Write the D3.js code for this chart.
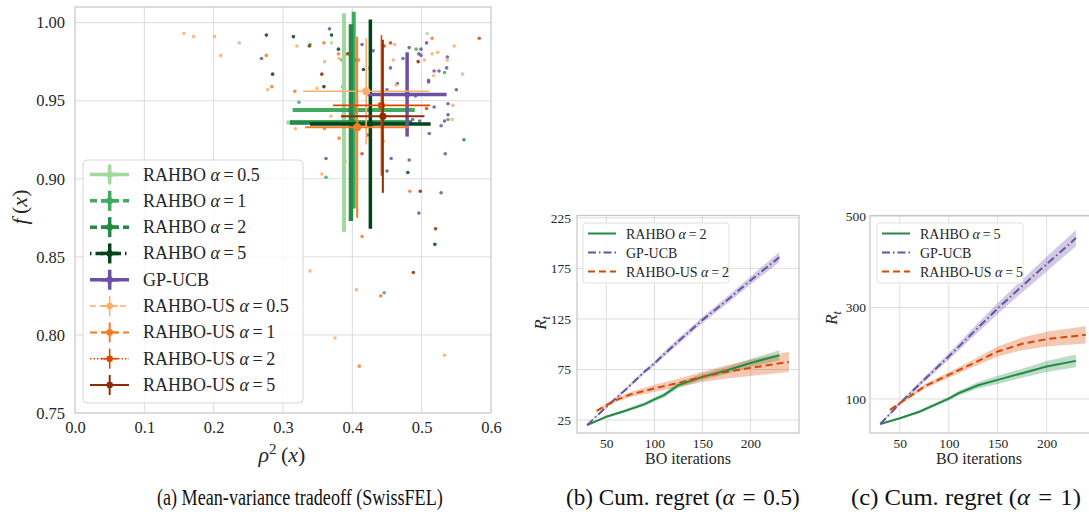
<!DOCTYPE html>
<html>
<head>
<meta charset="utf-8">
<script src="https://cdn.jsdelivr.net/npm/d3@7"></script>
<style>
  body { margin: 0; background: #fff; }
  svg { display: block; font-family: "Liberation Serif", "Times New Roman", serif; }
</style>
</head>
<body>
<svg id="chart" width="1089" height="518"></svg>
<script>
// ---- panel (a): mean-variance tradeoff ----
var methodNames = ["RAHBO", "RAHBO", "RAHBO", "RAHBO", "GP-UCB", "RAHBO-US", "RAHBO-US", "RAHBO-US", "RAHBO-US"];
var methodAlphas = ["0.5", "1", "2", "5", null, "0.5", "1", "2", "5"];
var meanRho2 = [0.388, 0.402, 0.398, 0.426, 0.479, 0.420, 0.407, 0.442, 0.444];
var meanF    = [0.936, 0.944, 0.936, 0.935, 0.954, 0.956, 0.933, 0.947, 0.940];
var errRho2  = [0.083, 0.088, 0.088, 0.087, 0.057, 0.091, 0.075, 0.070, 0.060];
var errF     = [0.070, 0.063, 0.063, 0.067, 0.027, 0.034, 0.058, 0.045, 0.049];

var runsRahbo05 = [[0.237,0.987],[0.370,0.987],[0.508,0.993],[0.559,0.967]];
var runsRahbo1  = [[0.339,0.986],[0.323,0.949],[0.492,0.983],[0.533,0.968],[0.538,0.938],[0.362,0.901],[0.446,0.827]];
var runsRahbo2  = [[0.561,0.925]];
var runsRahbo5  = [[0.276,0.992],[0.285,0.967],[0.315,0.991],[0.370,0.992],[0.380,0.983],[0.359,0.959],[0.416,0.970],[0.480,0.904],[0.519,0.858]];
var runsUcb     = [[0.269,0.977],[0.367,0.996],[0.362,0.913],[0.414,0.986],[0.406,0.976],[0.430,0.982],[0.401,0.968],[0.455,0.971],
                   [0.473,0.977],[0.465,0.961],[0.450,0.957],[0.482,0.984],[0.499,0.983],[0.496,0.980],[0.499,0.979],[0.507,0.987],
                   [0.537,0.978],[0.536,0.971],[0.518,0.969],[0.525,0.969],[0.510,0.963],[0.510,0.962],[0.550,0.957],[0.491,0.953],
                   [0.518,0.946],[0.538,0.948],[0.538,0.941],[0.533,0.937],[0.528,0.934],[0.511,0.929],[0.497,0.937],[0.487,0.938],
                   [0.534,0.916],[0.482,0.912],[0.456,0.913],[0.450,0.905],[0.528,0.891],[0.496,0.878]];
var runsUs05    = [[0.157,0.993],[0.171,0.991],[0.201,0.991],[0.210,0.979],[0.278,0.957],[0.320,0.985],[0.381,0.977],[0.360,0.975],
                   [0.349,0.958],[0.369,0.940],[0.318,0.932],[0.461,0.986],[0.459,0.976],[0.463,0.960],[0.504,0.976],[0.523,0.981],
                   [0.515,0.980],[0.537,0.976],[0.517,0.966],[0.547,0.985],[0.545,0.947],[0.544,0.938],[0.445,0.924],[0.356,0.903],
                   [0.390,0.911],[0.339,0.841],[0.406,0.829],[0.375,0.798],[0.533,0.787]];
var runsUs1     = [[0.276,0.979],[0.284,0.959],[0.359,0.987],[0.380,0.980],[0.385,0.976],[0.386,0.959],[0.317,0.956],[0.386,0.940],
                   [0.360,0.932],[0.381,0.926],[0.409,0.976],[0.425,0.971],[0.515,0.990],[0.483,0.892],[0.441,0.825],[0.410,0.780],[0.414,0.863]];
var runsUs2     = [[0.392,0.980],[0.414,0.916],[0.446,0.985],[0.455,0.987],[0.583,0.990],[0.507,0.945],[0.422,0.928]];
var runsUs5     = [[0.338,0.985],[0.395,0.980],[0.356,0.967],[0.495,0.975],[0.498,0.892],[0.520,0.868],[0.488,0.840]];
var runsByMethod = [runsRahbo05, runsRahbo1, runsRahbo2, runsRahbo5, runsUcb, runsUs05, runsUs1, runsUs2, runsUs5];

var xTicksA = [0.0, 0.1, 0.2, 0.3, 0.4, 0.5, 0.6];
var yTicksA = [0.75, 0.80, 0.85, 0.90, 0.95, 1.00];

// ---- panel (b): cumulative regret, alpha = 0.5 ----
var itersB      = [30, 50, 70, 90, 100, 110, 125, 150, 175, 200, 230];
var rahboB      = [20, 28.3, 34.2, 40.8, 45.4, 49.6, 59.5, 67.7, 74, 81.5, 89];
var rahboBsd    = [0.5, 1, 1.5, 2, 2, 2.5, 3, 3, 3.5, 4, 5];
var ucbB        = [20, 38, 55, 73, 81, 90, 103, 124, 143, 163, 186];
var ucbBsd      = [0.5, 1, 1.5, 2, 2, 2.5, 3, 3, 3.5, 4, 5];
var itersUsB    = [40, 50, 60, 75, 100, 125, 150, 175, 200, 240];
var usB         = [34, 39.8, 44.7, 50.3, 56.3, 61.8, 67.7, 72.6, 76.6, 82.5];
var usBsd       = [1, 1.5, 2, 2.5, 3.5, 4, 5, 6.5, 8, 10];
var xTicksB = [50, 100, 150, 200];
var yTicksB = [25, 75, 125, 175, 225];

// ---- panel (c): cumulative regret, alpha = 1 ----
var itersC      = [30, 50, 70, 100, 110, 130, 150, 175, 200, 230];
var rahboC      = [45, 57.6, 72, 100.7, 112.4, 130, 141.7, 156.3, 170.9, 183.3];
var rahboCsd    = [1, 2, 3, 4, 5, 7, 9, 10, 12, 14];
var ucbC        = [45, 90, 132, 193, 214, 256, 298, 347, 395, 452];
var ucbCsd      = [1, 3, 5, 7, 8, 10, 12, 14, 16, 18];
var itersUsC    = [40, 50, 75, 100, 125, 150, 175, 200, 240];
var usC         = [76, 90.6, 127, 152.6, 178, 203.7, 220.6, 230.9, 240.3];
var usCsd       = [2, 3, 5, 6, 8, 11, 14, 16, 19];
var xTicksC = [50, 100, 150, 200];
var yTicksC = [100, 300, 500];

// ---- styles ----
var methodColors = ["#a1d99b", "#41ab5d", "#238b45", "#00441b", "#6a51a3", "#fdae6b", "#f47b2a", "#d94801", "#8c2d04"];
var methodWidths = [4, 4, 4.5, 3.5, 3.5, 1.6, 2, 1.6, 2];
var methodDash   = [null, "7,4", "7,4", "1.5,4,8,4", null, "6,4", "7,4", "1.5,2", null];
var markerR      = [3.5, 3.5, 3.2, 3.2, 3, 4, 4, 3.6, 3.6];
var textColor = "#262626", gridColor = "#dcdcdc", frameColor = "#c8c8c8";
var serif = "'Liberation Serif', 'Times New Roman', serif";

var svg = d3.select("#chart");

function frameAndGrid(g, x, y, xt, yt) {
  var r = [x.range()[0], x.range()[1]], t = [y.range()[1], y.range()[0]];
  g.append("g").selectAll("line").data(xt).enter().append("line")
    .attr("x1", function(d){ return x(d); }).attr("x2", function(d){ return x(d); })
    .attr("y1", t[0]).attr("y2", t[1])
    .style("stroke", gridColor).style("stroke-width", 1);
  g.append("g").selectAll("line").data(yt).enter().append("line")
    .attr("y1", function(d){ return y(d); }).attr("y2", function(d){ return y(d); })
    .attr("x1", r[0]).attr("x2", r[1])
    .style("stroke", gridColor).style("stroke-width", 1);
  g.append("rect")
    .attr("x", r[0]).attr("y", t[0]).attr("width", r[1] - r[0]).attr("height", t[1] - t[0])
    .style("fill", "none").style("stroke", frameColor).style("stroke-width", 1.25);
}

function axes(g, x, y, xt, yt, xfmt, yfmt, fs, xpad, ypad) {
  var ax = g.append("g").attr("transform", "translate(0," + y.range()[0] + ")")
    .call(d3.axisBottom(x).tickValues(xt).tickFormat(xfmt).tickSize(0).tickPadding(xpad));
  var ay = g.append("g").attr("transform", "translate(" + x.range()[0] + ",0)")
    .call(d3.axisLeft(y).tickValues(yt).tickFormat(yfmt).tickSize(0).tickPadding(ypad));
  [ax, ay].forEach(function(a){
    a.attr("font-family", null).attr("font-size", null);
    a.select(".domain").remove();
    a.selectAll("text").style("font-family", serif)
      .style("font-size", fs + "px").style("fill", textColor);
  });
}

function alphaLabel(sel, name, a) {
  sel.append("tspan").text(name + (a === null ? "" : " "));
  if (a !== null) {
    sel.append("tspan").style("font-style", "italic").text("α");
    sel.append("tspan").text("\u2009=\u2009" + a);
  }
}

// ================= panel (a) =================
var xa = d3.scaleLinear().domain([0, 0.6]).range([75, 491]);
var ya = d3.scaleLinear().domain([0.75, 1.010]).range([413, 7]);
var ga = svg.append("g");
frameAndGrid(ga, xa, ya, xTicksA.slice(1, -1), yTicksA.slice(1));
axes(ga, xa, ya, xTicksA, yTicksA, d3.format(".1f"), d3.format(".2f"), 16.5, 8, 10);

// individual runs
runsByMethod.forEach(function(runs, i) {
  ga.append("g").selectAll("circle").data(runs).enter().append("circle")
    .attr("cx", function(d){ return xa(d[0]); })
    .attr("cy", function(d){ return ya(d[1]); })
    .attr("r", 1.8)
    .style("fill", methodColors[i]).style("opacity", 0.85);
});

// mean +- std error bars
meanRho2.forEach(function(m, i) {
  var eb = ga.append("g").style("stroke", methodColors[i]).style("stroke-width", methodWidths[i]);
  eb.append("line")
    .attr("x1", xa(m - errRho2[i])).attr("x2", xa(m + errRho2[i]))
    .attr("y1", ya(meanF[i])).attr("y2", ya(meanF[i]));
  eb.append("line")
    .attr("x1", xa(m)).attr("x2", xa(m))
    .attr("y1", ya(meanF[i] - errF[i])).attr("y2", ya(meanF[i] + errF[i]));
  ga.append("circle").attr("cx", xa(m)).attr("cy", ya(meanF[i])).attr("r", markerR[i])
    .style("fill", methodColors[i]);
});

// legend (a)
var lgA = ga.append("g");
lgA.append("rect").attr("x", 83).attr("y", 160).attr("width", 220).attr("height", 243).attr("rx", 4)
  .style("fill", "#fff").style("fill-opacity", 0.8).style("stroke", "#d6d6d6").style("stroke-width", 1);
var legY = d3.scaleLinear().domain([0, 8]).range([174.5, 385]);
methodNames.forEach(function(name, i) {
  var cy = legY(i), c = methodColors[i], lw = Math.min(methodWidths[i], 3.5);
  var row = lgA.append("g").style("stroke", c).style("stroke-width", lw);
  row.append("line").attr("x1", 90).attr("x2", 129).attr("y1", cy).attr("y2", cy)
    .style("stroke-dasharray", methodDash[i]);
  row.append("line").attr("x1", 101).attr("x2", 118).attr("y1", cy).attr("y2", cy);
  row.append("line").attr("x1", 109.7).attr("x2", 109.7).attr("y1", cy - 10).attr("y2", cy + 10);
  lgA.append("circle").attr("cx", 109.7).attr("cy", cy).attr("r", 3.3).style("fill", c);
  var t = lgA.append("text").attr("x", 143).attr("y", cy + 6)
    .style("font-size", "18px").style("fill", textColor);
  alphaLabel(t, name, methodAlphas[i]);
});

// axis labels (a)
var xlabA = svg.append("text").attr("x", 282).attr("y", 462).attr("text-anchor", "middle")
  .style("font-size", "22px").style("fill", textColor);
xlabA.append("tspan").style("font-style", "italic").text("ρ");
xlabA.append("tspan").attr("dy", -8).style("font-size", "15px").text("2");
xlabA.append("tspan").attr("dy", 8).text("\u2009(");
xlabA.append("tspan").style("font-style", "italic").text("x");
xlabA.append("tspan").text(")");

var ylabA = svg.append("text").attr("transform", "translate(27,207) rotate(-90)").attr("text-anchor", "middle")
  .style("font-size", "22px").style("fill", textColor);
ylabA.append("tspan").style("font-style", "italic").text("f");
ylabA.append("tspan").text("\u2009(");
ylabA.append("tspan").style("font-style", "italic").text("x");
ylabA.append("tspan").text(")");

// ================= regret panels =================
var regretColors = { rahbo: "#238b45", ucb: "#6a51a3", us: "#d94801" };

function regretPanel(p) {
  var x = d3.scaleLinear().domain([19.5, 250.5]).range(p.xr);
  var y = d3.scaleLinear().domain(p.yd).range([433, 215.5]);
  var g = svg.append("g");
  frameAndGrid(g, x, y, p.xt, p.yt);
  axes(g, x, y, p.xt, p.yt, d3.format("d"), d3.format("d"), 13.5, 5, p.ypad);

  var series = [
    { it: p.itR, v: p.rahbo, sd: p.rahboSd, c: regretColors.rahbo, dash: null },
    { it: p.itR, v: p.ucb, sd: p.ucbSd, c: regretColors.ucb, dash: "8,3,1.5,3" },
    { it: p.itU, v: p.us, sd: p.usSd, c: regretColors.us, dash: "7,4" }
  ];
  series.forEach(function(s) {
    var pts = s.it.map(function(d, i){ return { x: d, v: s.v[i], sd: s.sd[i] }; });
    g.append("path").datum(pts)
      .attr("d", d3.area().x(function(d){ return x(d.x); })
        .y0(function(d){ return y(d.v - d.sd); }).y1(function(d){ return y(d.v + d.sd); }))
      .style("fill", s.c).style("fill-opacity", 0.3).style("stroke", "none");
  });
  series.forEach(function(s) {
    var pts = s.it.map(function(d, i){ return { x: d, v: s.v[i] }; });
    g.append("path").datum(pts)
      .attr("d", d3.line().x(function(d){ return x(d.x); }).y(function(d){ return y(d.v); }))
      .style("fill", "none").style("stroke", s.c).style("stroke-width", 2)
      .style("stroke-dasharray", s.dash);
  });

  // legend
  var lx = p.legX;
  g.append("rect").attr("x", lx).attr("y", 223).attr("width", 146).attr("height", 60).attr("rx", 3)
    .style("fill", "#fff").style("fill-opacity", 0.8).style("stroke", "#e0e0e0");
  var labels = [["RAHBO", p.alpha], ["GP-UCB", null], ["RAHBO-US", p.alpha]];
  series.forEach(function(s, i) {
    var cy = 233.5 + i * 19;
    g.append("line").attr("x1", lx + 5).attr("x2", lx + 33).attr("y1", cy).attr("y2", cy)
      .style("stroke", s.c).style("stroke-width", 2).style("stroke-dasharray", s.dash);
    var t = g.append("text").attr("x", lx + 43).attr("y", cy + 5)
      .style("font-size", "14px").style("fill", textColor);
    alphaLabel(t, labels[i][0], labels[i][1]);
  });

  // axis labels
  svg.append("text").attr("x", p.xlab).attr("y", 464)
    .attr("text-anchor", "middle").style("font-size", "16px").style("fill", textColor)
    .text("BO iterations");
  var yl = svg.append("text").attr("transform", "translate(" + p.ylab[0] + "," + p.ylab[1] + ") rotate(-90)")
    .attr("text-anchor", "middle").style("font-size", "17px").style("fill", textColor);
  yl.append("tspan").style("font-style", "italic").text("R");
  yl.append("tspan").attr("dy", 4).style("font-size", "12px").style("font-style", "italic").text("t");
}

regretPanel({
  xr: [577, 799], yd: [12.2, 227.3], xt: xTicksB, yt: yTicksB, ypad: 6,
  itR: itersB, rahbo: rahboB, rahboSd: rahboBsd, ucb: ucbB, ucbSd: ucbBsd,
  itU: itersUsB, us: usB, usSd: usBsd, alpha: "2", legX: 583, ylab: [546, 323], xlab: 688
});
regretPanel({
  xr: [870, 1096], yd: [25.4, 501.5], xt: xTicksC, yt: yTicksC, ypad: 4,
  itR: itersC, rahbo: rahboC, rahboSd: rahboCsd, ucb: ucbC, ucbSd: ucbCsd,
  itU: itersUsC, us: usC, usSd: usCsd, alpha: "5", legX: 877, ylab: [837, 318], xlab: 979
});

// ================= captions (condensed to match the original width) =================
var captions = [
  { x: 157, w: 286, parts: [["(a) Mean-variance tradeoff (SwissFEL)", false]] },
  { x: 566, w: 234, parts: [["(b) Cum. regret (", false], ["α", true], ["\u2004=\u20040.5)", false]] },
  { x: 851, w: 230, parts: [["(c) Cum. regret (", false], ["α", true], ["\u2004=\u20041)", false]] }
];
captions.forEach(function(cp) {
  var t = svg.append("text").attr("x", 0).attr("y", 0)
    .style("font-size", "23px").style("fill", "#111");
  cp.parts.forEach(function(pt){
    t.append("tspan").style("font-style", pt[1] ? "italic" : "normal").text(pt[0]);
  });
  var natural = t.node().getComputedTextLength();
  t.attr("transform", "translate(" + cp.x + ",505) scale(" + (cp.w / natural) + ",1)");
});
</script>
</body>
</html>
